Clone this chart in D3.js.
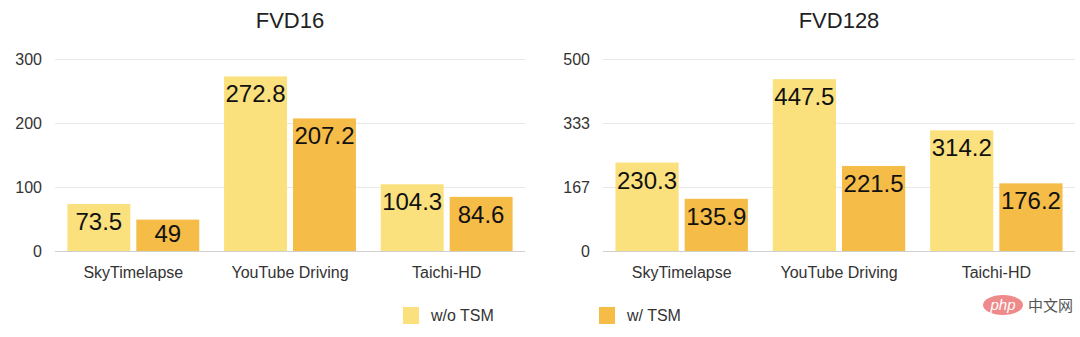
<!DOCTYPE html>
<html>
<head>
<meta charset="utf-8">
<script src="https://cdn.jsdelivr.net/npm/d3@7"></script>
<style>
  html, body { margin: 0; padding: 0; background: #fff; }
  svg { display: block; font-family: 'Liberation Sans', Arial, sans-serif; }
</style>
</head>
<body>
<svg id="chart" width="1080" height="337"></svg>
<script>
const categories = ['SkyTimelapse', 'YouTube Driving', 'Taichi-HD'];
const seriesNames = ['w/o TSM', 'w/ TSM'];
const colors = ['#FAE17E', '#F5BC47'];

const fvd16 = {
  'w/o TSM': [73.5, 272.8, 104.3],
  'w/ TSM': [49, 207.2, 84.6],
};
const fvd128 = {
  'w/o TSM': [230.3, 447.5, 314.2],
  'w/ TSM': [135.9, 221.5, 176.2],
};
const fvd16Ticks = [0, 100, 200, 300];
const fvd128Ticks = [0, 500 / 3, 1000 / 3, 500];

const svg = d3.select('#chart');

const plotTop = 59;
const plotBottom = 251;

function drawPanel(title, values, ticks, yMax, x0, x1) {
  const g = svg.append('g');

  const y = d3.scaleLinear().domain([0, yMax]).range([plotBottom, plotTop]);
  const x = d3.scaleBand().domain(categories).range([x0, x1]).padding(0);
  const xInner = d3
    .scaleBand()
    .domain(seriesNames)
    .range([0, x.bandwidth()])
    .paddingInner(0.087)
    .paddingOuter(0.18);

  // grid
  g.selectAll('line.grid')
    .data(ticks)
    .join('line')
    .attr('class', 'grid')
    .attr('x1', x0)
    .attr('x2', x1)
    .attr('y1', (d) => Math.round(y(d)) + 0.5)
    .attr('y2', (d) => Math.round(y(d)) + 0.5)
    .attr('stroke', (d) => (d === 0 ? '#cfcfcf' : '#e8e8e8'))
    .attr('stroke-width', 1);

  g.selectAll('text.ytick')
    .data(ticks)
    .join('text')
    .attr('class', 'ytick')
    .attr('x', x0 - 13)
    .attr('y', (d) => y(d))
    .attr('dy', '0.36em')
    .attr('text-anchor', 'end')
    .attr('font-size', 16)
    .attr('fill', '#333')
    .text((d) => d3.format('.0f')(d));

  const rows = [];
  seriesNames.forEach((s, si) => {
    values[s].forEach((v, ci) => {
      rows.push({ series: s, si, cat: categories[ci], value: v });
    });
  });

  const bars = g
    .selectAll('g.bar')
    .data(rows)
    .join('g')
    .attr('class', 'bar')
    .attr('transform', (d) => `translate(${x(d.cat) + xInner(d.series)},0)`);

  bars
    .append('rect')
    .attr('x', 0)
    .attr('y', (d) => y(d.value))
    .attr('width', xInner.bandwidth())
    .attr('height', (d) => plotBottom - y(d.value))
    .attr('fill', (d) => colors[d.si]);

  bars
    .append('text')
    .attr('x', xInner.bandwidth() / 2)
    .attr('y', (d) => Math.min(y(d.value) + 26, plotBottom - 9))
    .attr('text-anchor', 'middle')
    .attr('font-size', 24)
    .attr('fill', '#111')
    .text((d) => d.value);

  g.selectAll('text.xcat')
    .data(categories)
    .join('text')
    .attr('class', 'xcat')
    .attr('x', (d) => x(d) + x.bandwidth() / 2)
    .attr('y', 278)
    .attr('text-anchor', 'middle')
    .attr('font-size', 16)
    .attr('fill', '#333')
    .text((d) => d);

  g.append('text')
    .attr('x', (x0 + x1) / 2)
    .attr('y', 28)
    .attr('text-anchor', 'middle')
    .attr('font-size', 22)
    .attr('fill', '#222')
    .text(title);
}

drawPanel('FVD16', fvd16, fvd16Ticks, 300, 55, 525);
drawPanel('FVD128', fvd128, fvd128Ticks, 500, 603, 1075);

// legend
const legendX = [403, 599];
const legend = svg
  .selectAll('g.legend')
  .data(seriesNames)
  .join('g')
  .attr('class', 'legend')
  .attr('transform', (d, i) => `translate(${legendX[i]},307)`);

legend
  .append('rect')
  .attr('width', 16)
  .attr('height', 17)
  .attr('fill', (d, i) => colors[i]);

legend
  .append('text')
  .attr('x', 28)
  .attr('y', 14)
  .attr('font-size', 16)
  .attr('fill', '#333')
  .text((d) => d);

// watermark
const wm = svg.append('g').attr('transform', 'translate(1003,305)');
wm.append('ellipse').attr('rx', 20).attr('ry', 10).attr('fill', '#ef8a8a');
wm.append('text')
  .attr('y', 5)
  .attr('text-anchor', 'middle')
  .attr('font-size', 15)
  .attr('font-style', 'italic')
  .attr('fill', '#fff')
  .text('php');
wm.append('text')
  .attr('x', 25)
  .attr('y', 6)
  .attr('font-family', 'Noto Sans CJK SC')
  .attr('font-size', 15)
  .attr('fill', '#555')
  .text('中文网');
</script>
</body>
</html>
